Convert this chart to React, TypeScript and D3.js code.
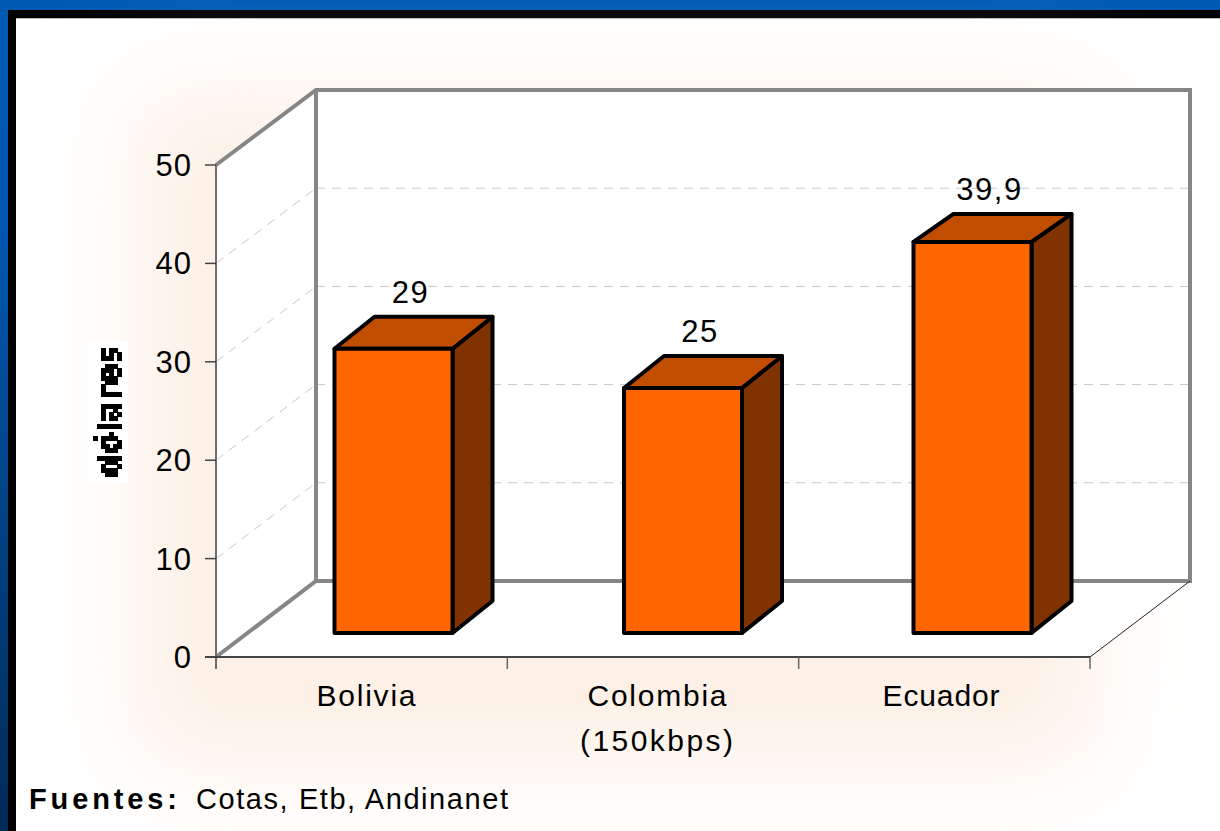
import React from "react";
import * as d3 from "d3";

const categories = ["Bolivia", "Colombia", "Ecuador"];
const categorySublabels = ["", "(150kbps)", ""];
const values = [29, 25, 39.9];
const valueLabels = ["29", "25", "39,9"];
const yTicks = [0, 10, 20, 30, 40, 50];

const FONT = "'Liberation Sans', Arial, sans-serif";
const ORANGE = "#ff6600";
const ORANGE_TOP = "#c04d00";
const ORANGE_SIDE = "#803300";
const WALL = "#868686";

// plano frontal y desplazamiento de la pared del fondo
const x0 = 216;
const x1 = 1090;
const dx = 100;

const y = d3.scaleLinear().domain([0, 50]).range([657, 165]);
const yBack = d3.scaleLinear().domain([0, 50]).range([581, 90]);
const x = d3.scaleBand().domain(categories).range([x0, x1]);
// las barras están a media profundidad, por eso van algo más juntas
const xBar = d3.scaleBand().domain(categories).range([248.75, 1117.25]);
const barHeight = d3.scaleLinear().domain([0, 50]).range([0, 490]);

const pts = (p: number[][]) => p.map((d) => d.join(",")).join(" ");

export default function App() {
  const floorY = y(0);
  const topY = y(50);
  const barW = 118;
  const bottom = 633;
  const barDx = 40;
  const barDy = [-32, -32, -28];
  // centro de las etiquetas de categoría
  const labelX = [366, 657, 941];
  const labelLen = [99, 139, 117];

  return (
    <svg
      width={1220}
      height={831}
      style={{ position: "absolute", left: 0, top: 0, display: "block" }}
      fontFamily={FONT}
    >
      <defs>
        <linearGradient id="frame" x1="0" y1="0" x2="0" y2="1">
          <stop offset="0" stopColor="#005ab4" />
          <stop offset="0.3" stopColor="#0056ac" />
          <stop offset="1" stopColor="#002a58" />
        </linearGradient>
        <filter id="glow" x="-25%" y="-35%" width="150%" height="170%">
          <feGaussianBlur stdDeviation="50" />
        </filter>
        {/* texto pixelado como en la imagen original */}
        <filter
          id="pixel"
          x="85"
          y="340"
          width="45"
          height="145"
          filterUnits="userSpaceOnUse"
          primitiveUnits="userSpaceOnUse"
        >
          <feFlood x="87" y="342" width="1" height="1" floodColor="#000" />
          <feComposite x="85" y="340" width="4" height="4" />
          <feTile x="85" y="340" width="45" height="145" result="grid" />
          <feComposite x="85" y="340" width="45" height="145" in="SourceGraphic" in2="grid" operator="in" />
          <feMorphology x="85" y="340" width="45" height="145" operator="dilate" radius="2" />
          <feComponentTransfer x="85" y="340" width="45" height="145">
            <feFuncA type="discrete" tableValues="0 0 1 1" />
          </feComponentTransfer>
        </filter>
      </defs>

      <rect width={1220} height={831} fill="url(#frame)" />
      <rect x={8} y={10} width={1212} height={821} fill="#000" />
      <rect x={16} y={18} width={1204} height={813} fill="#fff" />
      <line x1={16} y1={18.5} x2={1220} y2={18.5} stroke="#bbb" strokeWidth={1} />
      <rect x={135} y={95} width={960} height={670} fill="#fdf0e5" filter="url(#glow)" />

      {/* paredes y piso */}
      <polygon
        fill="#fff"
        points={pts([
          [x0, topY],
          [x0 + dx, yBack(50)],
          [x1 + dx, yBack(50)],
          [x1 + dx, yBack(0)],
          [x1, floorY],
          [x0, floorY],
        ])}
      />

      {/* rejilla */}
      <g stroke="#c8c8c8" strokeWidth={1} strokeDasharray="9 7" fill="none">
        {yTicks.slice(1, -1).map((t) => (
          <g key={t}>
            <line x1={x0} y1={y(t)} x2={x0 + dx} y2={yBack(t)} />
            <line x1={x0 + dx} y1={yBack(t)} x2={x1 + dx} y2={yBack(t)} />
          </g>
        ))}
      </g>

      <g fill="none" stroke={WALL} strokeWidth={4} strokeLinejoin="miter">
        <polyline
          points={pts([
            [x0, topY],
            [x0 + dx, yBack(50)],
            [x1 + dx, yBack(50)],
            [x1 + dx, yBack(0)],
            [x0 + dx, yBack(0)],
            [x0, floorY],
          ])}
        />
        <line x1={x0 + dx} y1={yBack(50)} x2={x0 + dx} y2={yBack(0)} />
      </g>

      {/* ejes */}
      <line x1={x0} y1={topY} x2={x0} y2={floorY + 12} stroke="#6e6e6e" strokeWidth={2} />
      <line x1={x0 - 11} y1={floorY} x2={x1} y2={floorY} stroke="#444" strokeWidth={2} />
      <line x1={x1} y1={floorY} x2={x1 + dx} y2={yBack(0)} stroke="#222" strokeWidth={1} />
      {yTicks.map((t) => (
        <g key={t}>
          <line x1={x0 - 11} y1={y(t)} x2={x0} y2={y(t)} stroke="#444" strokeWidth={1.5} />
          <text
            x={x0 - 24}
            y={y(t) + 11}
            fontSize={31}
            textAnchor="end"
            fill="#000"
            letterSpacing={1}
          >
            {t}
          </text>
        </g>
      ))}
      {[x0 + x.bandwidth(), x0 + 2 * x.bandwidth(), x1].map((tx) => (
        <line key={tx} x1={tx} y1={floorY} x2={tx} y2={floorY + 12} stroke="#666" strokeWidth={1.5} />
      ))}

      {/* barras */}
      {categories.map((c, i) => {
        const left = xBar(c)! + xBar.bandwidth() / 2 - barW / 2;
        const right = left + barW;
        const top = bottom - barHeight(values[i]);
        const ddy = barDy[i];
        return (
          <g key={c} stroke="#000" strokeWidth={4} strokeLinejoin="round">
            <polygon
              fill={ORANGE_SIDE}
              points={pts([
                [right, top],
                [right + barDx, top + ddy],
                [right + barDx, bottom - 32],
                [right, bottom],
              ])}
            />
            <polygon
              fill={ORANGE_TOP}
              points={pts([
                [left, top],
                [left + barDx, top + ddy],
                [right + barDx, top + ddy],
                [right, top],
              ])}
            />
            <rect x={left} y={top} width={barW} height={bottom - top} fill={ORANGE} />
            <text
              x={left + barW / 2 + 17}
              y={top + ddy - 14}
              fontSize={31}
              textAnchor="middle"
              fill="#000"
              stroke="none"
              letterSpacing={1.5}
            >
              {valueLabels[i]}
            </text>
          </g>
        );
      })}

      {/* categorías */}
      {categories.map((c, i) => (
        <g key={c} fontSize={30} fill="#000">
          <text
            x={labelX[i] - labelLen[i] / 2}
            y={706}
            textLength={labelLen[i]}
          >
            {c}
          </text>
          {categorySublabels[i] && (
            <text x={580} y={751} textLength={153}>
              {categorySublabels[i]}
            </text>
          )}
        </g>
      ))}

      {/* título del eje */}
      <rect x={87} y={341} width={41} height={142} fill="#fff" />
      <g filter="url(#pixel)">
        <text
          transform="translate(120,477) rotate(-90)"
          fontSize={32}
          fontWeight="bold"
          fontFamily="'DejaVu Sans', sans-serif"
          fill="#000"
          textLength={132}
          lengthAdjust="spacing"
        >
          dólares
        </text>
      </g>

      {/* fuentes */}
      <text x={29} y={809} fontSize={29} fontWeight="bold" fill="#000" textLength={148}>
        Fuentes:
      </text>
      <text x={196} y={809} fontSize={29} fill="#000" textLength={312}>
        Cotas, Etb, Andinanet
      </text>
    </svg>
  );
}
